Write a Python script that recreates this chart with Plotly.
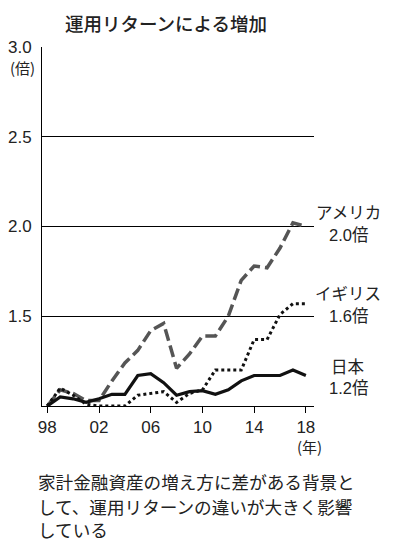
import plotly.graph_objects as go

years = list(range(1998, 2019))
usa = [1.00, 1.09, 1.07, 1.03, 1.03, 1.14, 1.24, 1.31, 1.42, 1.46, 1.21, 1.29, 1.39, 1.39, 1.50, 1.70, 1.78, 1.77, 1.88, 2.02, 2.00]
uk = [1.00, 1.10, 1.06, 1.01, 1.00, 1.00, 1.00, 1.06, 1.07, 1.08, 1.02, 1.07, 1.09, 1.20, 1.20, 1.20, 1.37, 1.37, 1.51, 1.57, 1.57]
japan = [1.00, 1.05, 1.04, 1.02, 1.04, 1.065, 1.065, 1.17, 1.18, 1.13, 1.06, 1.08, 1.085, 1.065, 1.09, 1.14, 1.17, 1.17, 1.17, 1.20, 1.17]

x_tick_vals = [1998, 2002, 2006, 2010, 2014, 2018]
x_tick_text = ["98", "02", "06", "10", "14", "18"]
y_tick_vals = [1.5, 2.0, 2.5, 3.0]
y_tick_text = ["1.5", "2.0", "2.5", "3.0"]

series_names = ["アメリカ", "イギリス", "日本"]
series_ends = ["2.0倍", "1.6倍", "1.2倍"]

FONT = "Liberation Sans, Arial, Noto Sans CJK JP, sans-serif"
JFONT = "Noto Sans CJK JP, sans-serif"

# page has an 8px body margin; figure is sized so it fills the 400x543 window
OFF = 8
W, H = 400 - OFF, 543 - OFF
PL, PR, PT, PB = 42, 314, 47, 406  # plot area in page pixels
ML, MR, MT, MB = PL - OFF, W - (PR - OFF), PT - OFF, H - (PB - OFF)

fig = go.Figure()
fig.add_trace(go.Scatter(x=years, y=usa, mode="lines", line=dict(color="#555555", width=3.5, dash="12px,5px"), showlegend=False))
fig.add_trace(go.Scatter(x=years, y=uk, mode="lines", line=dict(color="#111111", width=3, dash="dot"), showlegend=False))
fig.add_trace(go.Scatter(x=years, y=japan, mode="lines", line=dict(color="#111111", width=3.2), showlegend=False))

fig.update_layout(
    width=W, height=H,
    margin=dict(l=ML, r=MR, t=MT, b=MB, autoexpand=False),
    paper_bgcolor="white", plot_bgcolor="white",
    font=dict(family=FONT, size=17, color="#222"),
    xaxis=dict(range=[1997.59, 2018.63], tickvals=x_tick_vals, ticktext=x_tick_text,
               showline=True, linecolor="black", linewidth=1, ticks="outside", ticklen=6,
               tickcolor="black", showgrid=False, zeroline=False, fixedrange=True,
               automargin=False, tickfont=dict(size=17)),
    yaxis=dict(range=[1.0, 3.0], tickvals=y_tick_vals, ticktext=y_tick_text,
               showline=True, linecolor="black", linewidth=1, ticks="", showgrid=True,
               gridcolor="black", gridwidth=1, zeroline=False, fixedrange=True,
               automargin=False, tickfont=dict(size=17), ticklabelstandoff=6),
)

def px_ann(text, x, y, size, anchor="left", family=JFONT, weight="normal"):
    fx = (x - OFF - ML) / (W - ML - MR)
    fy = 1 - (y - OFF - MT) / (H - MT - MB)
    fig.add_annotation(x=fx, y=fy, xref="paper", yref="paper", text=text, showarrow=False,
                       xanchor=anchor, yanchor="middle", align="left",
                       font=dict(family=family, size=size, color="#222", weight=weight))

# title, anchored to the top edge of the figure so it is not clipped
fig.add_annotation(x=(166 - OFF - ML) / (W - ML - MR), y=1 + MT / (H - MT - MB),
                   xref="paper", yref="paper", text="運用リターンによる増加", showarrow=False,
                   xanchor="center", yanchor="top",
                   font=dict(family=JFONT, size=18.5, color="#222", weight=500))
px_ann("(倍)", 22, 67, 15, anchor="center")
px_ann("(年)", 309, 446, 15, anchor="center")

label_y = [(212, 235), (293, 316), (366, 388)]
for name, end, (y1, y2) in zip(series_names, series_ends, label_y):
    px_ann(name, 348, y1, 16.5, anchor="center")
    px_ann(end, 348, y2, 16.5, anchor="center", family=FONT)

px_ann("家計金融資産の増え方に差がある背景と", 36, 482, 17.6)
px_ann("して、運用リターンの違いが大きく影響", 36, 506, 17.6)
px_ann("している", 36, 529, 17.6)

fig.write_html("out.html")
